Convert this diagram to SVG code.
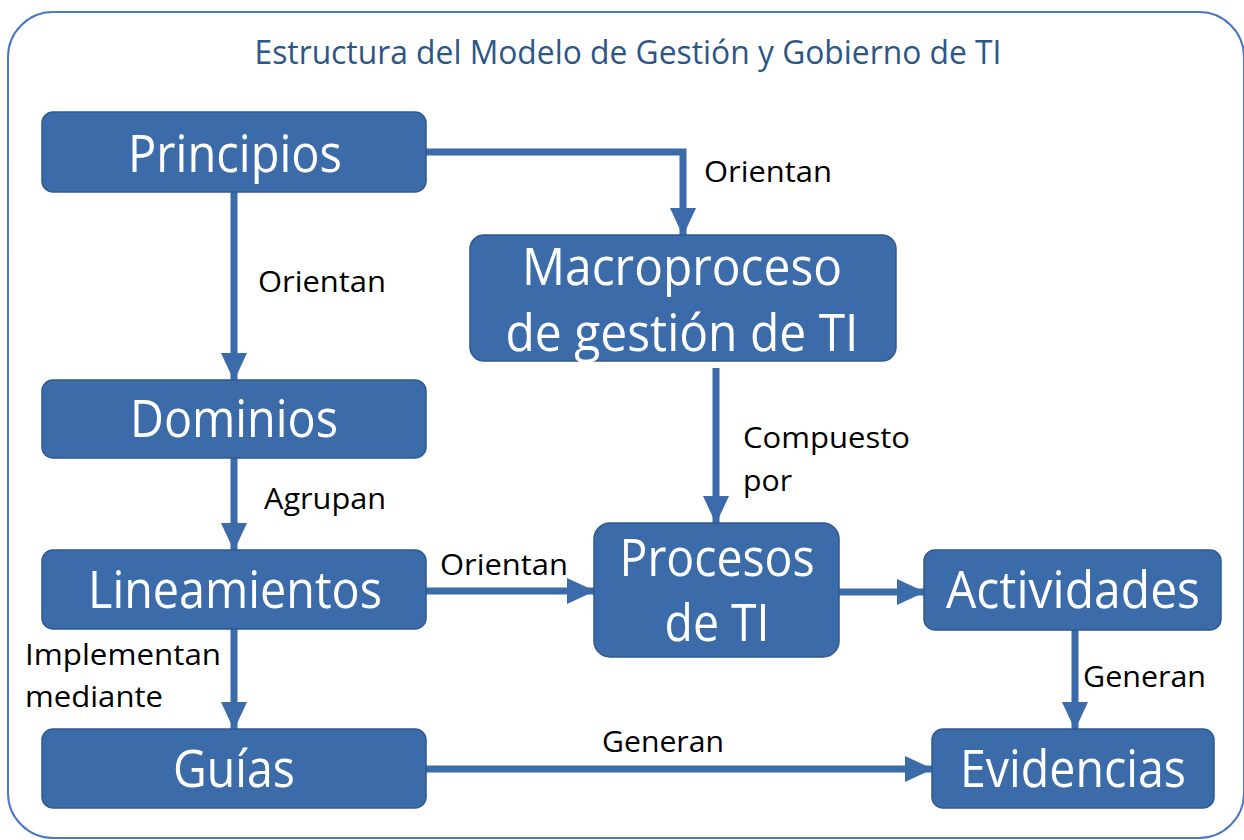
<svg xmlns="http://www.w3.org/2000/svg" width="1244" height="840" viewBox="0 0 1244 840">
<style>
.node rect{fill:#3B6BA8;stroke:#2F5A91;stroke-width:1.5}
.nt{font-family:"Open Sans","Noto Sans",sans-serif;fill:#ffffff;font-size:51px;text-anchor:middle}
.lbl{font-family:"Open Sans","Noto Sans",sans-serif;fill:#000000;font-size:29px}
.conn path{fill:none;stroke:#3B6BA8;stroke-width:7}
</style>
<defs>
<marker id="ah" viewBox="0 0 28 26" refX="27" refY="13" markerWidth="28" markerHeight="26" markerUnits="userSpaceOnUse" orient="auto">
<path d="M0,0 L28,13 L0,26 z" fill="#3B6BA8"/>
</marker>
</defs>
<rect x="8" y="12" width="1236" height="826" rx="45" fill="#ffffff" stroke="#4A78C2" stroke-width="2"/>
<text x="628" y="64" font-family="'Open Sans','Noto Sans',sans-serif" font-size="33" fill="#2C5687" text-anchor="middle" textLength="747" lengthAdjust="spacingAndGlyphs">Estructura del Modelo de Gestión y Gobierno de TI</text>
<g class="conn">
<path d="M426,152 H683 V235" marker-end="url(#ah)"/>
<path d="M234,192 V380" marker-end="url(#ah)"/>
<path d="M716,368 V523" marker-end="url(#ah)"/>
<path d="M234,458 V550" marker-end="url(#ah)"/>
<path d="M426,591 H594" marker-end="url(#ah)"/>
<path d="M234,629 V729" marker-end="url(#ah)"/>
<path d="M839,592 H924" marker-end="url(#ah)"/>
<path d="M1075,630 V729" marker-end="url(#ah)"/>
<path d="M426,769 H932" marker-end="url(#ah)"/>
</g>
<g class="labels">
<text class="lbl" x="704" y="182" textLength="128" lengthAdjust="spacingAndGlyphs">Orientan</text>
<text class="lbl" x="258" y="292" textLength="128" lengthAdjust="spacingAndGlyphs">Orientan</text>
<text class="lbl" x="743" y="448" textLength="167" lengthAdjust="spacingAndGlyphs">Compuesto</text>
<text class="lbl" x="743" y="491" textLength="49" lengthAdjust="spacingAndGlyphs">por</text>
<text class="lbl" x="264" y="509" textLength="122" lengthAdjust="spacingAndGlyphs">Agrupan</text>
<text class="lbl" x="440" y="575" textLength="128" lengthAdjust="spacingAndGlyphs">Orientan</text>
<text class="lbl" x="25" y="665" textLength="196" lengthAdjust="spacingAndGlyphs">Implementan</text>
<text class="lbl" x="25" y="707" textLength="138" lengthAdjust="spacingAndGlyphs">mediante</text>
<text class="lbl" x="1083" y="687" textLength="123" lengthAdjust="spacingAndGlyphs">Generan</text>
<text class="lbl" x="602" y="752" textLength="122" lengthAdjust="spacingAndGlyphs">Generan</text>
</g>
<g id="principios" class="node">
<rect x="42" y="112" width="384" height="80" rx="11"/>
<text class="nt" x="235" y="172" textLength="214" lengthAdjust="spacingAndGlyphs">Principios</text>
</g>
<g id="macroproceso" class="node">
<rect x="470" y="235" width="426" height="126" rx="14"/>
<text class="nt" x="682" y="285" font-size="48" textLength="320" lengthAdjust="spacingAndGlyphs">Macroproceso</text>
<text class="nt" x="682" y="351" font-size="48" textLength="353" lengthAdjust="spacingAndGlyphs">de gestión de TI</text>
</g>
<g id="dominios" class="node">
<rect x="42" y="380" width="384" height="78" rx="11"/>
<text class="nt" x="234" y="437" textLength="208" lengthAdjust="spacingAndGlyphs">Dominios</text>
</g>
<g id="lineamientos" class="node">
<rect x="42" y="550" width="384" height="79" rx="11"/>
<text class="nt" x="235" y="608" textLength="294" lengthAdjust="spacingAndGlyphs">Lineamientos</text>
</g>
<g id="guias" class="node">
<rect x="42" y="729" width="384" height="79" rx="11"/>
<text class="nt" x="234" y="787" textLength="122" lengthAdjust="spacingAndGlyphs">Guías</text>
</g>
<g id="procesos" class="node">
<rect x="594" y="523" width="245" height="134" rx="16"/>
<text class="nt" x="717" y="576" textLength="195" lengthAdjust="spacingAndGlyphs">Procesos</text>
<text class="nt" x="717" y="641" textLength="105" lengthAdjust="spacingAndGlyphs">de TI</text>
</g>
<g id="actividades" class="node">
<rect x="924" y="550" width="297" height="80" rx="11"/>
<text class="nt" x="1073" y="608" textLength="254" lengthAdjust="spacingAndGlyphs">Actividades</text>
</g>
<g id="evidencias" class="node">
<rect x="932" y="729" width="282" height="79" rx="11"/>
<text class="nt" x="1073" y="787" textLength="226" lengthAdjust="spacingAndGlyphs">Evidencias</text>
</g>
</svg>
